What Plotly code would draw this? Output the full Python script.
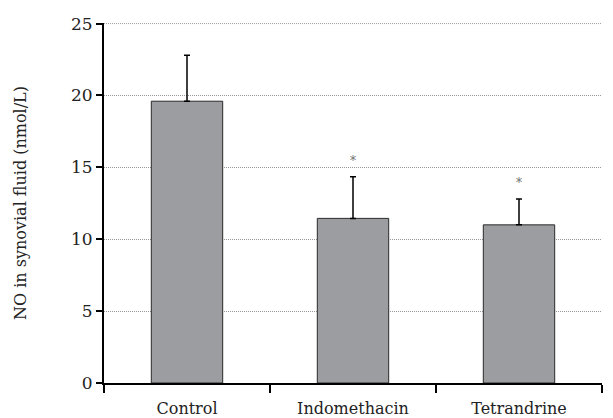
import plotly.graph_objects as go

categories = ["Control", "Indomethacin", "Tetrandrine"]
means = [19.6, 11.45, 11.0]
sds = [3.2, 2.9, 1.8]
significant = [False, True, True]
y_ticks = [0, 5, 10, 15, 20, 25]

FONT = "DejaVu Serif"

fig = go.Figure()
fig.add_trace(go.Bar(
    x=categories, y=means,
    width=0.43,
    marker=dict(color="#9c9da1", line=dict(color="#2a2a2a", width=1)),
    error_y=dict(type="data", array=sds, symmetric=False, arrayminus=[0]*len(sds),
                 color="#000000", thickness=1.5, width=3),
    showlegend=False,
))

for c, m, s, sig in zip(categories, means, sds, significant):
    if sig:
        fig.add_annotation(x=c, y=m + s, text="*", showarrow=False,
                           yshift=16, font=dict(family=FONT, size=12, color="#6e6e6e"))

# top gridline (plotly hides the gridline that sits on the plot edge)
fig.add_shape(type="line", xref="paper", yref="y", x0=0, x1=1,
              y0=y_ticks[-1], y1=y_ticks[-1], layer="below",
              line=dict(color="#999999", width=1, dash="1px,1px"))

fig.update_layout(
    width=605, height=410,
    margin=dict(l=96, r=11, t=15, b=35),
    plot_bgcolor="white", paper_bgcolor="white",
    font=dict(family=FONT, size=16, color="#222222"),
    bargap=0.57,
)
fig.update_xaxes(
    type="category", tickson="boundaries", automargin=False,
    showline=True, linecolor="#000000", linewidth=2,
    ticks="outside", ticklen=8, tickwidth=2, tickcolor="#000000",
    showgrid=False, range=[-0.5, 2.5], ticklabelstandoff=10,
    tickfont=dict(family=FONT, size=16, color="#222222"),
)
fig.update_yaxes(
    range=[0, 25.04], tickvals=y_ticks, automargin=False,
    showline=True, linecolor="#000000", linewidth=2,
    ticks="outside", ticklen=6, tickwidth=2, tickcolor="#000000",
    showgrid=True, gridcolor="#999999", gridwidth=1, griddash="1px,1px",
    zeroline=False,
    tickfont=dict(family=FONT, size=17, color="#222222"),
    title=dict(text="NO in synovial fluid (nmol/L)", font=dict(family=FONT, size=16, color="#222222"), standoff=40),
)

fig.write_html("out.html")
